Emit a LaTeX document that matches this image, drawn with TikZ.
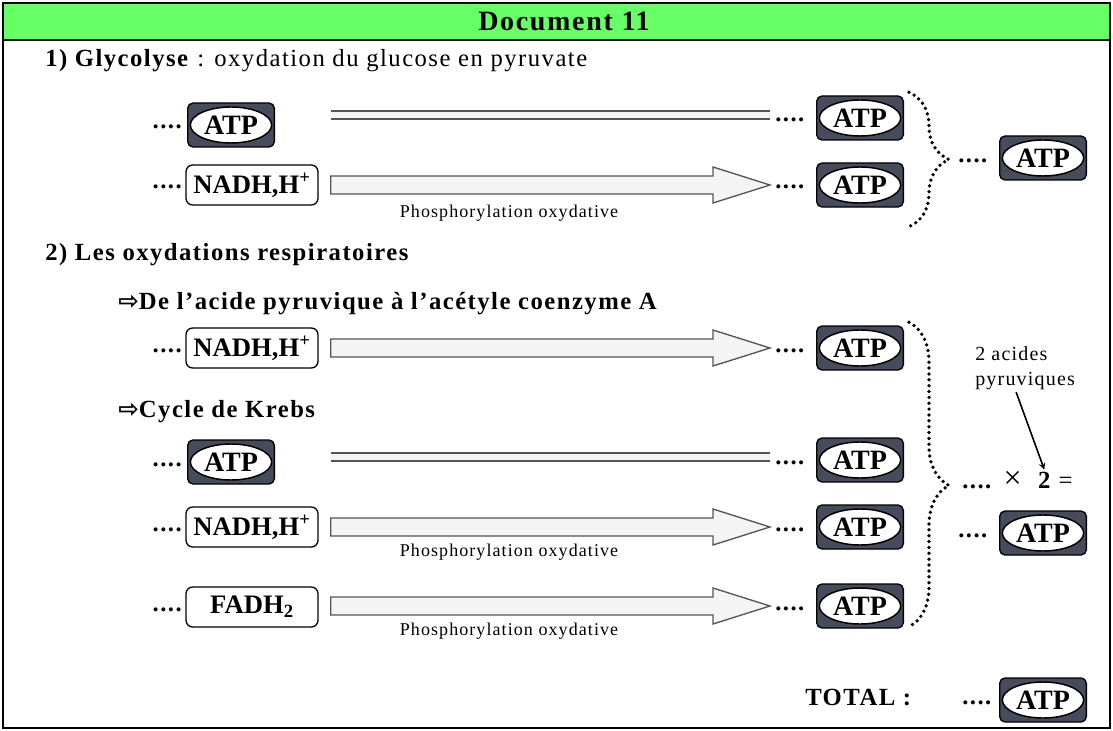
\documentclass[tikz,border=0pt]{standalone}
\usepackage{fontspec}
\setmainfont{Liberation Serif}[LetterSpace=6]
\newfontfamily\boxfont{Liberation Serif}
\newfontfamily\arrowfont{DejaVu Sans}
\usepackage{tikz}
\usetikzlibrary{calc,decorations.pathreplacing}

\definecolor{headgreen}{RGB}{102,255,102}
\definecolor{atpgrey}{RGB}{70,76,92}
\definecolor{arrowfill}{RGB}{244,244,244}
\definecolor{arrowline}{RGB}{85,85,85}

% big hollow arrow from #1 to the tip #2
\newcommand\phosarrow[2]{
	\draw[bigarrow] ($(#1)+(0,-9)$) -- ($(#2)+(-57,-9)$) -- ($(#2)+(-57,-18)$) -- (#2)
		-- ($(#2)+(-57,18)$) -- ($(#2)+(-57,9)$) -- ($(#1)+(0,9)$) -- cycle;
}

\begin{document}
\begin{tikzpicture}[x=0.75pt,y=-0.75pt,
	heading/.style={font=\fontsize{18.5}{22}\selectfont\bfseries, inner sep=0pt},
	atp/.style={draw=black, line width=1pt, fill=atpgrey, rounded corners=4pt,
		minimum width=65pt, minimum height=33pt, inner sep=0pt,
		font=\boxfont\fontsize{21}{21}\selectfont\bfseries,
		path picture={\draw[fill=white, line width=1.1pt] (path picture bounding box.center)
			ellipse [x radius=30.5pt, y radius=13.5pt];}},
	carrier/.style={draw=black, line width=1pt, fill=white, rounded corners=5pt,
		minimum width=99pt, minimum height=30pt, inner sep=0pt,
		font=\boxfont\fontsize{20}{20}\selectfont\bfseries},
	dots/.style={font=\fontsize{18.5}{22}\selectfont\bfseries, inner sep=0pt},
	twoline/.style={draw=arrowline, line width=1.5pt, double=arrowfill, double distance=5pt},
	bigarrow/.style={draw=arrowline, line width=1pt, fill=arrowfill},
	phos/.style={font=\fontsize{13.5}{15}\selectfont, inner sep=0pt},
	note/.style={font=\fontsize{15}{19}\selectfont, inner sep=0pt, align=left},
	dotbrace/.style={decorate, decoration={brace, amplitude=30pt, #1}, line width=2.8pt,
		line cap=round, dash pattern=on 0pt off 4.4pt}]
	\useasboundingbox (0,0) rectangle (1113,731);
	\fill[headgreen] (3,3) rectangle (1110,40);
	\draw[line width=2.2pt] (3,3) rectangle (1110,728);
	\draw[line width=1.6pt] (3,40) -- (1110,40);
	\node[heading, font=\fontsize{21}{24}\selectfont\bfseries, anchor=base] (title) at (564,31) {Document 11};

	% 1) glycolyse
	\node[heading, anchor=base west] (glyco) at (45,67) {1) Glycolyse\textmd{ : oxydation du glucose en pyruvate}};
	\node[atp] (atpA) at (231,125) {ATP};
	\node[dots, anchor=base east] (dA) at (182,129) {....};
	\node[atp] (atpA2) at (860,118) {ATP};
	\node[dots, anchor=base west] (dA2) at (775,122) {....};
	\draw[twoline] ($(atpA.east)+(56,-10)$) -- ($(atpA2.west)+(-46,-3)$);
	\node[carrier] (nadhB) at (252,185) {NADH,H\textsuperscript{+}};
	\node[dots, anchor=base east] (dB) at (182,189) {....};
	\node[atp] (atpB2) at (860,185) {ATP};
	\node[dots, anchor=base west] (dB2) at (775,189) {....};
	\phosarrow{$(nadhB.east)+(12,0)$}{$(atpB2.west)+(-46,0)$}
	\node[phos] (phB) at (509,213) {Phosphorylation oxydative};
	\draw[dotbrace={aspect=0.5}] ($(atpA2.north east)+(5,-3)$) -- ($(atpB2.south east)+(5,19)$);
	\node[atp] (atpS) at (1043,158) {ATP};
	\node[dots, anchor=base west] (dS) at (958,162) {....};

	% 2) oxydations respiratoires
	\node[heading, anchor=base west] (resp) at (45,260) {2) Les oxydations respiratoires};
	\node[heading, anchor=base west] (pyac) at (118,309) {{\arrowfont ⇨}De l’acide pyruvique à l’acétyle coenzyme A};
	\node[carrier] (nadhC) at (252,348) {NADH,H\textsuperscript{+}};
	\node[dots, anchor=base east] (dC) at (182,352) {....};
	\node[atp] (atpC2) at (860,348) {ATP};
	\node[dots, anchor=base west] (dC2) at (775,352) {....};
	\phosarrow{$(nadhC.east)+(12,0)$}{$(atpC2.west)+(-46,0)$}

	\node[heading, anchor=base west] (krebs) at (118,417) {{\arrowfont ⇨}Cycle de Krebs};
	\node[atp] (atpD) at (231,462) {ATP};
	\node[dots, anchor=base east] (dD) at (182,466) {....};
	\node[atp] (atpD2) at (860,460) {ATP};
	\node[dots, anchor=base west] (dD2) at (775,464) {....};
	\draw[twoline] ($(atpD.east)+(56,-5)$) -- ($(atpD2.west)+(-46,-3)$);
	\node[carrier] (nadhE) at (252,527) {NADH,H\textsuperscript{+}};
	\node[dots, anchor=base east] (dE) at (182,531) {....};
	\node[atp] (atpE2) at (860,527) {ATP};
	\node[dots, anchor=base west] (dE2) at (775,531) {....};
	\phosarrow{$(nadhE.east)+(12,0)$}{$(atpE2.west)+(-46,0)$}
	\node[phos] (phE) at (509,552) {Phosphorylation oxydative};
	\node[carrier] (fadhF) at (252,607) {FADH\textsubscript{2}};
	\node[dots, anchor=base east] (dF) at (182,611) {....};
	\node[atp] (atpF2) at (860,606) {ATP};
	\node[dots, anchor=base west] (dF2) at (775,610) {....};
	\phosarrow{$(fadhF.east)+(12,-1)$}{$(atpF2.west)+(-46,0)$}
	\node[phos] (phF) at (509,631) {Phosphorylation oxydative};
	\draw[dotbrace={aspect=0.536}] ($(atpC2.north east)+(5,-3)$) -- ($(atpF2.south east)+(5,-2)$);

	\node[note, anchor=north west] (pyr) at (975,346) {2 acides\\pyruviques};
	\node[heading, anchor=base west] (times) at (962,488) {....\textmd{\hspace{8pt}{\fontsize{24}{24}\selectfont ×}\hspace{11pt}}2\textmd{\hspace{5pt}=}};
	\draw[-stealth, line width=1.2pt] ($(pyr.south)+(-9,2)$) -- ($(times.north east)+(-30,-1)$);
	\node[atp] (atpT) at (1043,533) {ATP};
	\node[dots, anchor=base west] (dT) at (958,537) {....};

	\node[heading, anchor=base west] (total) at (805,705) {TOTAL :};
	\node[atp] (atpU) at (1043,700) {ATP};
	\node[dots, anchor=base west] (dU) at (962,704) {....};
%	\node (x) at (556,400) {test};
\end{tikzpicture}
\end{document}
